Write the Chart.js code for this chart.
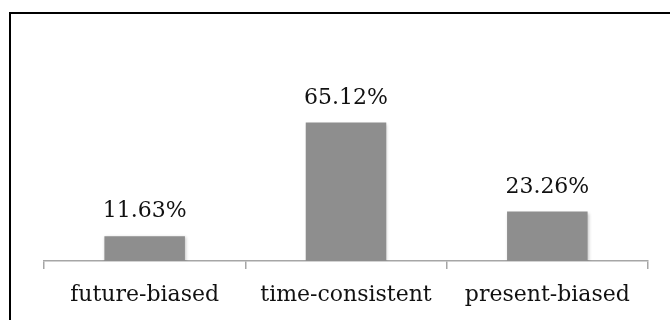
<!DOCTYPE html>
<html>
<head>
<meta charset="utf-8">
<script src="https://cdn.jsdelivr.net/npm/chart.js@4/dist/chart.umd.min.js"></script>
<style>
  html, body { margin: 0; padding: 0; background: #fff; overflow: hidden; }
  #wrap { position: relative; width: 670px; height: 320px; }
  #marco { position: absolute; left: 9px; top: 12px; width: 700px; height: 400px;
           border-left: 2px solid #000; border-top: 2px solid #000; box-sizing: border-box; }
  canvas { position: absolute; left: 0; top: 0; }
</style>
</head>
<body>
<div id="wrap">
  <canvas id="grafica" width="670" height="320"></canvas>
  <div id="marco"></div>
</div>
<script>
// Datos de la gráfica
const categorias = ["future-biased", "time-consistent", "present-biased"];
const porcentajes = [11.63, 65.12, 23.26];
const etiquetas = ["11.63%", "65.12%", "23.26%"];

const fuente = "'DejaVu Serif', serif";

// Sombra suave en las barras
const sombra = {
    id: "sombra",
    beforeDatasetsDraw(chart) {
        const ctx = chart.ctx;
        ctx.save();
        ctx.shadowColor = "rgba(0,0,0,0.22)";
        ctx.shadowBlur = 3;
        ctx.shadowOffsetX = 1;
        ctx.shadowOffsetY = 1;
    },
    afterDatasetsDraw(chart) {
        chart.ctx.restore();
    }
};

// Etiquetas de valor encima de cada barra
const valores = {
    id: "valores",
    afterDatasetsDraw(chart) {
        const ctx = chart.ctx;
        const meta = chart.getDatasetMeta(0);
        ctx.save();
        ctx.font = "22px " + fuente;
        ctx.fillStyle = "#111";
        ctx.textAlign = "center";
        ctx.textBaseline = "alphabetic";
        meta.data.forEach((barra, i) => {
            ctx.fillText(etiquetas[i], barra.x, barra.y - 19);
        });
        ctx.restore();
    }
};

const ctx = document.getElementById("grafica").getContext("2d");
new Chart(ctx, {
    type: "bar",
    data: {
        labels: categorias,
        datasets: [{
            data: porcentajes,
            backgroundColor: "#8e8e8e",
            borderWidth: 0,
            barPercentage: 0.4,
            categoryPercentage: 1
        }]
    },
    options: {
        responsive: false,
        animation: false,
        layout: { padding: { left: 44, right: 22, top: 91, bottom: 0 } },
        plugins: { legend: { display: false }, tooltip: { enabled: false } },
        scales: {
            x: {
                afterFit(scale) { scale.height = 59; },
                grid: {
                    offset: true,
                    drawOnChartArea: false,
                    drawTicks: true,
                    tickLength: 8,
                    color: "#a6a6a6",
                    lineWidth: 1.5
                },
                border: { color: "#a6a6a6", width: 1.5 },
                ticks: {
                    color: "#111",
                    font: { family: fuente, size: 22 },
                    padding: 13,
                    maxRotation: 0
                }
            },
            y: {
                display: false,
                min: 0,
                max: 80
            }
        }
    },
    plugins: [sombra, valores]
});
</script>
</body>
</html>
